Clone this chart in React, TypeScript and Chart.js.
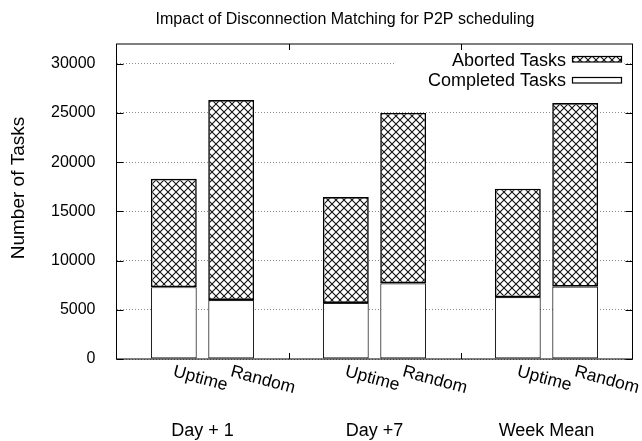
import React, { useEffect, useRef } from 'react';
import { Chart, registerables } from 'chart.js';

Chart.register(...registerables);

const chartTitle = 'Impact of Disconnection Matching for P2P scheduling';
const yAxisTitle = 'Number of Tasks';
const groups = ['Day + 1', 'Day +7', 'Week Mean'];
const methods = ['Uptime', 'Random'];
// order: Day+1 Uptime, Day+1 Random, Day+7 Uptime, Day+7 Random, Week Mean Uptime, Week Mean Random
const completedTasks = [7300, 6000, 5700, 7700, 6300, 7350];
const abortedTasks = [11000, 20300, 10750, 17300, 11000, 18650];
const yTickValues = [0, 5000, 10000, 15000, 20000, 25000, 30000];
const yMin = 0;
const yMax = 32000;
const legendLabels = ['Aborted Tasks', 'Completed Tasks'];

const FONT = "'Liberation Sans', Arial, Helvetica, sans-serif";

function buildLabels(): string[] {
  const labels: string[] = [''];
  groups.forEach(() => {
    methods.forEach((m) => labels.push(m));
    labels.push('');
  });
  return labels;
}

function buildSeries(values: number[]): (number | null)[] {
  const out: (number | null)[] = [null];
  let k = 0;
  groups.forEach(() => {
    methods.forEach(() => {
      out.push(values[k]);
      k += 1;
    });
    out.push(null);
  });
  return out;
}

function makeHatch(): CanvasPattern | string {
  const c = document.createElement('canvas');
  const s = 8;
  c.width = s;
  c.height = s;
  const g = c.getContext('2d');
  if (!g) return '#fff';
  g.fillStyle = '#ffffff';
  g.fillRect(0, 0, s, s);
  g.strokeStyle = '#111111';
  g.lineWidth = 1.1;
  g.beginPath();
  g.moveTo(-1, -1);
  g.lineTo(s + 1, s + 1);
  g.moveTo(-1, s + 1);
  g.lineTo(s + 1, -1);
  g.stroke();
  const p = g.createPattern(c, 'repeat');
  return p || '#fff';
}

export default function App() {
  const ref = useRef<HTMLCanvasElement | null>(null);

  useEffect(() => {
    document.body.style.margin = '0';
    const canvas = ref.current;
    if (!canvas) return;
    const hatch = makeHatch();
    const labels = buildLabels();

    const decor = {
      id: 'decor',
      afterDraw(chart: any) {
        const ctx: CanvasRenderingContext2D = chart.ctx;
        const area = chart.chartArea;
        const xs = chart.scales.x;
        const ys = chart.scales.y;
        ctx.save();

        // legend (opaque)
        ctx.fillStyle = '#ffffff';
        ctx.fillRect(395, 46, area.right - 8 - 395, 44);
        ctx.font = `18px ${FONT}`;
        ctx.fillStyle = '#000';
        ctx.textAlign = 'right';
        ctx.textBaseline = 'alphabetic';
        ctx.fillText(legendLabels[0], 566, 66);
        ctx.fillText(legendLabels[1], 566, 86);
        ctx.fillStyle = hatch as any;
        ctx.fillRect(572, 56, 49, 6);
        ctx.lineWidth = 1.2;
        ctx.strokeStyle = '#000';
        ctx.strokeRect(572.5, 56.5, 49, 5.5);
        ctx.fillStyle = '#fff';
        ctx.fillRect(572, 77, 49, 6);
        ctx.strokeRect(572.5, 77.5, 49, 5.5);

        // frame
        ctx.lineWidth = 1;
        ctx.strokeStyle = '#000';
        ctx.strokeRect(area.left, area.top, area.right - area.left, area.bottom - area.top);

        // inward tick marks
        ctx.beginPath();
        yTickValues.forEach((v) => {
          const y = Math.round(ys.getPixelForValue(v)) + 0.5;
          ctx.moveTo(area.left, y);
          ctx.lineTo(area.left + 7, y);
          ctx.moveTo(area.right, y);
          ctx.lineTo(area.right - 7, y);
        });
        labels.forEach((l, i) => {
          if (i === 0 || i === labels.length - 1 || l !== '') return;
          const x = Math.round(xs.getPixelForValue(i)) + 0.5;
          ctx.moveTo(x, area.bottom);
          ctx.lineTo(x, area.bottom - 6);
          ctx.moveTo(x, area.top);
          ctx.lineTo(x, area.top + 6);
        });
        ctx.stroke();

        // title
        ctx.fillStyle = '#000';
        ctx.font = `16px ${FONT}`;
        ctx.textAlign = 'center';
        ctx.textBaseline = 'alphabetic';
        ctx.fillText(chartTitle, 345, 24);

        // y axis title
        ctx.save();
        ctx.translate(19, 188);
        ctx.rotate(-Math.PI / 2);
        ctx.font = `19px ${FONT}`;
        ctx.textAlign = 'center';
        ctx.textBaseline = 'middle';
        ctx.fillText(yAxisTitle, 0, 0);
        ctx.restore();

        // rotated method labels
        ctx.font = `17.5px ${FONT}`;
        labels.forEach((l, i) => {
          if (!l) return;
          const x = xs.getPixelForValue(i);
          ctx.save();
          ctx.translate(x + 2, area.bottom + 4);
          ctx.rotate((15 * Math.PI) / 180);
          ctx.textAlign = 'left';
          ctx.textBaseline = 'top';
          ctx.fillText(l, 0, 0);
          ctx.restore();
        });

        // group labels
        ctx.font = `18px ${FONT}`;
        ctx.textAlign = 'center';
        ctx.textBaseline = 'alphabetic';
        groups.forEach((g, gi) => {
          const first = 1 + gi * (methods.length + 1);
          const last = first + methods.length - 1;
          const cx = (xs.getPixelForValue(first) + xs.getPixelForValue(last)) / 2;
          ctx.fillText(g, cx, 436);
        });

        ctx.restore();
      },
    };

    const chart = new Chart(canvas, {
      type: 'bar',
      data: {
        labels,
        datasets: [
          {
            label: legendLabels[1],
            data: buildSeries(completedTasks),
            backgroundColor: '#ffffff',
            borderColor: '#222222',
            borderWidth: 1.2,
            borderSkipped: false,
            categoryPercentage: 0.8,
            barPercentage: 1,
          },
          {
            label: legendLabels[0],
            data: buildSeries(abortedTasks),
            backgroundColor: hatch as any,
            borderColor: '#000000',
            borderWidth: 1.6,
            borderSkipped: false,
            categoryPercentage: 0.8,
            barPercentage: 1,
          },
        ],
      },
      options: {
        responsive: false,
        animation: false,
        devicePixelRatio: 1,
        layout: { padding: { top: 44, right: 9.5, bottom: 0, left: 0 } },
        plugins: {
          legend: { display: false },
          title: { display: false },
          tooltip: { enabled: false },
        },
        scales: {
          x: {
            type: 'category',
            stacked: true,
            offset: false,
            grid: { display: false, drawTicks: false },
            border: { display: false },
            ticks: { display: false },
            afterFit: (s: any) => {
              s.height = 82;
            },
          },
          y: {
            stacked: true,
            min: yMin,
            max: yMax,
            grid: {
              color: '#8a8a8a',
              lineWidth: 1,
              drawTicks: false,
            },
            border: { display: false, dash: [1, 2] },
            ticks: {
              padding: 21,
              color: '#000',
              font: { family: FONT, size: 16 },
              callback: (v: any) => String(v),
            },
            afterBuildTicks: (s: any) => {
              s.ticks = yTickValues.map((v) => ({ value: v }));
            },
            afterFit: (s: any) => {
              s.width = 116.5;
            },
          },
        },
      },
      plugins: [decor],
    });

    return () => chart.destroy();
  }, []);

  return (
    <div style={{ width: 642, height: 441 }}>
      <canvas ref={ref} width={642} height={441} style={{ display: 'block', width: 642, height: 441 }} />
    </div>
  );
}
